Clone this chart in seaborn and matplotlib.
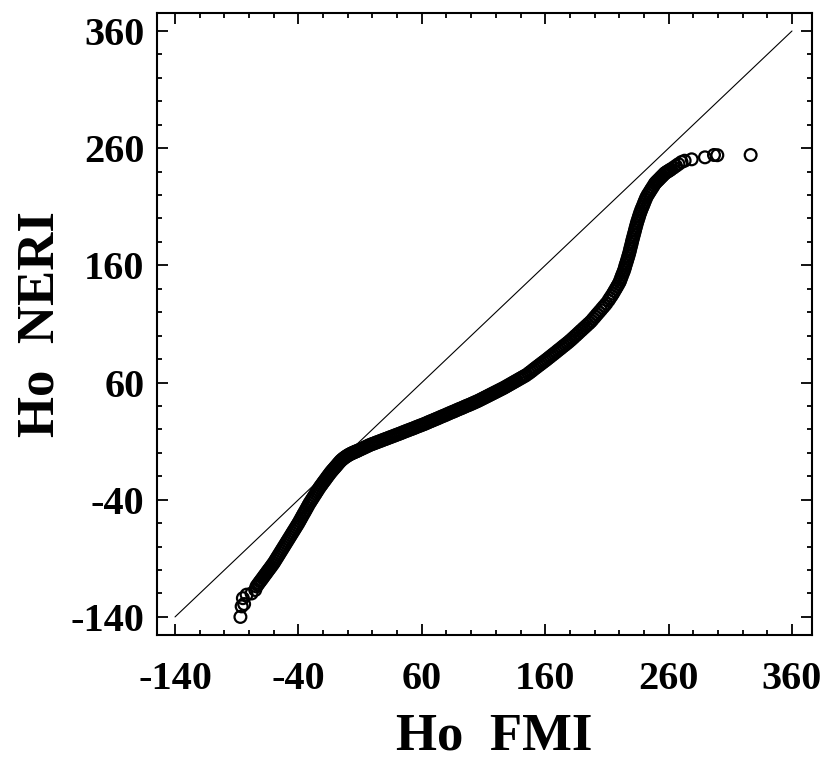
"""Q-Q style comparison of Ho estimates: NERI vs FMI."""
import numpy as np
import matplotlib
matplotlib.use("Agg")
import matplotlib.pyplot as plt
from matplotlib.ticker import MultipleLocator
import seaborn as sns

# reference diagonal (y = x)
diag = [-140, 360]

# lower tail, isolated circles
tail_low_x = [-87.0, -86.0, -84.0, -85.0, -82.0, -78.0, -75.0]
tail_low_y = [-140.0, -131.0, -129.0, -124.0, -121.0, -120.0, -117.0]

# lower steep branch
lower_x = [-74, -73, -72, -71, -70, -69, -68, -67, -66, -65, -64, -63, -62, -61, -60,
           -59, -58, -57, -56, -55, -54, -53, -52, -51, -50,
           -49, -48, -47, -46, -45, -44, -43, -42, -41, -40,
           -39, -38, -37, -36, -35, -34, -33, -32, -31,
           -30, -29, -28, -27, -26, -25, -24, -23, -22,
           -21, -20, -19, -18, -17, -16, -15, -14,
           -13, -12, -11, -10, -9, -8, -7, -6]
lower_y = [-114.0, -112.6, -111.1, -109.7, -108.3, -106.9, -105.4, -104.0, -102.6, -101.1,
           -99.7, -98.3, -96.9, -95.4, -94.0,
           -92.3, -90.6, -88.9, -87.2, -85.5, -83.8, -82.1, -80.4, -78.7, -77.0,
           -75.3, -73.6, -71.9, -70.2, -68.5, -66.8, -65.1, -63.4, -61.7, -60.0,
           -58.1, -56.2, -54.3, -52.4, -50.6, -48.7, -46.8, -44.9, -43.0,
           -41.4, -39.7, -38.1, -36.4, -34.8, -33.1, -31.5, -29.8, -28.3,
           -26.9, -25.4, -24.0, -22.6, -21.1, -19.7, -18.3, -16.9,
           -15.6, -14.4, -13.2, -12.0, -10.8, -9.5, -8.3, -7.1]

# knee and flat middle branch
middle_x = [-5, -4, -3, -2, -1, 0, 1, 2, 3, 4, 5, 6, 7, 8,
            9.5, 11, 12.5, 14, 15.5, 17, 18.5, 20, 21.5, 23, 24.5, 26, 27.5, 29, 30.5,
            32, 33.5, 35, 36.5, 38, 39.5, 41, 42.5, 44, 45.5, 47, 48.5, 50, 51.5, 53,
            54.5, 56, 57.5, 59, 60.5, 62, 63.5, 65, 66.5, 68, 69.5, 71, 72.5, 74, 75.5,
            77, 78.5, 80, 81.5, 83, 84.5, 86, 87.5, 89, 90.5, 92, 93.5, 95, 96.5, 98,
            99.5, 101, 102.5, 104, 105.5, 107, 108.5, 110, 111.5, 113, 114.5, 116, 117.5,
            119, 120.5, 122, 123.5, 125, 126.5, 128, 129.5, 131, 132.5, 134, 135.5, 137,
            138.5, 140, 141.5, 143, 144.5]
middle_y = [-6.1, -5.2, -4.4, -3.6, -2.9, -2.2, -1.6, -1.0, -0.5, 0.0, 0.5, 0.9, 1.4, 1.8,
            2.55, 3.3, 4.05, 4.8, 5.55, 6.3, 7.0, 7.6, 8.2, 8.8, 9.4, 10.0, 10.6, 11.2, 11.8,
            12.4, 13.0, 13.6, 14.2, 14.8, 15.4, 16.0, 16.6, 17.2, 17.9, 18.5, 19.1, 19.7, 20.3, 20.9,
            21.5, 22.2, 22.8, 23.4, 24.0, 24.6, 25.3, 26.0, 26.7, 27.3, 28.0, 28.7, 29.3, 30.0, 30.7,
            31.4, 32.0, 32.7, 33.4, 34.1, 34.8, 35.4, 36.1, 36.8, 37.5, 38.1, 38.8, 39.5, 40.2, 40.8,
            41.5, 42.2, 42.9, 43.6, 44.3, 45.1, 45.9, 46.7, 47.5, 48.3, 49.1, 49.9, 50.7,
            51.5, 52.3, 53.1, 53.9, 54.7, 55.5, 56.4, 57.3, 58.2, 59.1, 60.0, 60.9, 61.8,
            62.7, 63.6, 64.5, 65.4, 66.3]

# rising branch
upper_x = [146.5, 148, 149.5, 151, 152.5, 154, 155.5, 157, 158.5, 160,
           161.5, 163, 164.5, 166, 167.5, 169, 170.5, 172, 173.5, 175, 176.5, 178, 179.5,
           181, 182.5, 184, 185.5, 187, 188.5, 190, 191.5, 193, 194.5, 196,
           197.5, 199, 200.5, 202, 203.5, 205, 206.5, 208, 209.5]
upper_y = [67.8, 69.0, 70.2, 71.5, 72.7, 73.9, 75.1, 76.3, 77.5, 78.7,
           79.9, 81.2, 82.4, 83.7, 84.9, 86.2, 87.5, 88.7, 90.0, 91.3, 92.5, 93.8, 95.1,
           96.5, 97.9, 99.4, 100.8, 102.3, 103.8, 105.2, 106.7, 108.1, 109.6, 111.0,
           112.6, 114.5, 116.3, 118.2, 120.0, 121.8, 123.7, 125.5, 127.4]

# near-vertical branch
steep_x = [211.3, 212.5, 213.8, 215.0, 216.1, 217.2, 218.3, 219.4,
           220.4, 221.1, 221.8, 222.5, 223.3, 224.0, 224.6, 225.1, 225.7, 226.3, 226.9,
           227.4, 228.0, 228.5, 228.9, 229.4, 229.9, 230.3, 230.8, 231.3, 231.8, 232.3,
           232.8, 233.3, 233.8, 234.3, 234.9, 235.5, 236.1, 236.7, 237.4, 238.1, 238.9,
           239.7, 240.4, 241.2, 242.0]
steep_y = [130, 132, 134, 136, 138, 140, 142, 144,
           146, 148, 150, 152, 154, 156, 158, 160, 162, 164, 166,
           168, 170, 172, 174, 176, 178, 180, 182, 184, 186, 188,
           190, 192, 194, 196, 198, 200, 202, 204, 206, 208, 210,
           212, 214, 216, 218]

# bend into the plateau
top_x = [243, 244, 245, 246, 247, 248, 249, 250, 251, 252, 253, 254, 255, 256, 257,
         258, 259, 260, 261, 262, 264, 266, 268, 270.5, 273]
top_y = [220.0, 221.6, 223.3, 225.0, 226.6, 228.3, 230.0, 231.1, 232.2, 233.2, 234.3,
         235.4, 236.4, 237.5, 238.6, 239.3, 240.0, 240.6, 241.3, 242.0, 243.4, 244.9,
         246.4, 248.2, 249.3]

# upper tail, isolated circles
tail_high_x = [278.7, 289.5, 296.8, 299.5, 326.5]
tail_high_y = [250.5, 252.2, 254.2, 254.0, 254.2]

ho_fmi = np.concatenate([tail_low_x, lower_x, middle_x, upper_x, steep_x, top_x, tail_high_x])
ho_neri = np.concatenate([tail_low_y, lower_y, middle_y, upper_y, steep_y, top_y, tail_high_y])

sns.set_style("ticks")
plt.rcParams["font.family"] = ["Liberation Serif", "DejaVu Serif"]
plt.rcParams["font.weight"] = "bold"
plt.rcParams["axes.labelweight"] = "bold"
plt.rcParams["axes.unicode_minus"] = False
plt.rcParams["text.color"] = "black"
plt.rcParams["axes.labelcolor"] = "black"
plt.rcParams["xtick.color"] = "black"
plt.rcParams["ytick.color"] = "black"

fig = plt.figure(figsize=(8.25, 7.62), dpi=100)
ax = fig.add_axes([0.1903, 0.1667, 0.7939, 0.8163])

sns.lineplot(x=diag, y=diag, color="black", linewidth=0.8, ax=ax)
sns.scatterplot(x=ho_fmi, y=ho_neri, marker="o", s=72, facecolor="none",
                edgecolor="black", linewidth=1.6, ax=ax)

ax.set_xlim(-154.6, 376.2)
ax.set_ylim(-155.4, 375.4)
ax.xaxis.set_major_locator(MultipleLocator(100, offset=60))
ax.yaxis.set_major_locator(MultipleLocator(100, offset=60))
ax.xaxis.set_minor_locator(MultipleLocator(20))
ax.yaxis.set_minor_locator(MultipleLocator(20))

for side in ["top", "right", "bottom", "left"]:
    ax.spines[side].set_visible(True)
    ax.spines[side].set_linewidth(1.5)
    ax.spines[side].set_color("black")

ax.tick_params(which="both", direction="in", top=True, right=True,
               color="black", width=1.3)
ax.tick_params(which="major", length=8, labelsize=29, labelcolor="black")
ax.tick_params(which="minor", length=3.6)
ax.tick_params(axis="x", which="major", pad=19)
ax.tick_params(axis="y", which="major", pad=9)

ax.set_xlabel("Ho  FMI", fontsize=38, fontweight="bold", color="black")
ax.set_ylabel("Ho  NERI", fontsize=38, fontweight="bold", color="black")
ax.xaxis.set_label_coords(0.515, -0.125)
ax.yaxis.set_label_coords(-0.1405, 0.5)

fig.savefig("out.png", dpi=100)
